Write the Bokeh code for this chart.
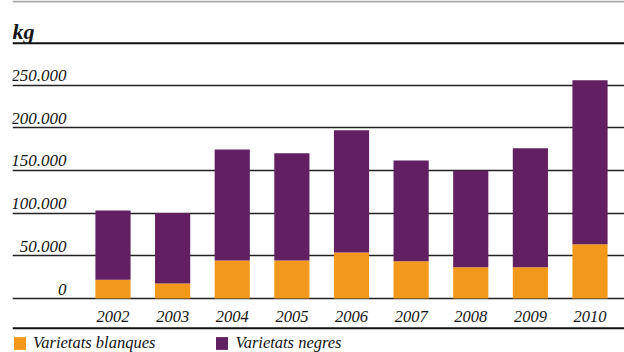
from bokeh.plotting import figure
from bokeh.models import (Range1d, ColumnDataSource, LabelSet, Label, Span,
                          Legend, LegendItem, FixedTicker)
from bokeh.core.properties import value
from bokeh.embed import file_html
from bokeh.resources import INLINE

# ---- data (kg) ----
years = ["2002", "2003", "2004", "2005", "2006", "2007", "2008", "2009", "2010"]
blanques = [22000, 17500, 44500, 44500, 54000, 43500, 36500, 36500, 63500]
negres = [81000, 82500, 130000, 125500, 143000, 118000, 113000, 139500, 192000]
tick_values = [0, 50000, 100000, 150000, 200000, 250000]
tick_labels = ["0", "50.000", "100.000", "150.000", "200.000", "250.000"]
series_names = ["Varietats blanques", "Varietats negres"]
unit_label = "kg"

ORANGE = "#F2991C"
PURPLE = "#621F62"
FONT = "Liberation Serif"
TEXT = "#141414"

# ---- layout helpers (canvas pixel -> data) ----
W, H = 624, 352
FRAME_LEFT = 12
PX_PER_UNIT = 59.625
CENTER0 = 112.5
Y0_PX = 298
PX_PER_KG = 213.5 / 250000


def xd(px):
    return (px - CENTER0) / PX_PER_UNIT


def yd(py):
    return (Y0_PX - py) / PX_PER_KG


p = figure(width=W, height=H, output_backend="svg", toolbar_location=None,
           x_axis_location=None, y_axis_location=None,
           x_range=Range1d(xd(FRAME_LEFT), xd(W)),
           y_range=Range1d(yd(H), yd(0)),
           min_border_left=FRAME_LEFT, min_border_right=0, min_border_top=0,
           min_border_bottom=0)
p.outline_line_color = None
p.xgrid.visible = False
p.ygrid.ticker = FixedTicker(ticks=tick_values)
p.ygrid.grid_line_color = "#222222"
p.ygrid.grid_line_width = 1.7

idx = list(range(len(years)))
src = ColumnDataSource(dict(idx=idx, years=years, blanques=blanques, negres=negres))
rs = p.vbar_stack(["blanques", "negres"], x="idx", width=0.59, source=src,
                  color=[ORANGE, PURPLE], line_width=0)

# decorative rules
p.add_layout(Span(location=yd(1), dimension="width", line_color="#aaaaaa", line_width=2))
p.add_layout(Span(location=yd(42.7), dimension="width", line_color="#111111", line_width=2))
p.add_layout(Span(location=yd(327.7), dimension="width", line_color="#111111", line_width=2))

# unit label
p.add_layout(Label(x=xd(12), y=yd(31), text=unit_label, text_font=FONT,
                   text_font_style="bold italic", text_font_size="22px",
                   text_color=TEXT, text_baseline="alphabetic", text_align="left"))

# y tick labels above the grid lines
tsrc = ColumnDataSource(dict(y=tick_values, t=tick_labels))
p.add_layout(LabelSet(x=xd(66), y="y", text="t", source=tsrc, y_offset=4,
                      text_font=value(FONT), text_font_style="italic",
                      text_font_size="17px", text_color=TEXT,
                      text_align="right", text_baseline="alphabetic"))

# year labels
p.add_layout(LabelSet(x="idx", y=yd(321), text="years", source=src,
                      text_font=value(FONT), text_font_style="italic",
                      text_font_size="16.5px", text_color=TEXT,
                      text_align="center", text_baseline="alphabetic"))

legend = Legend(items=[LegendItem(label=series_names[0], renderers=[rs[0]]),
                       LegendItem(label=series_names[1], renderers=[rs[1]])],
                location=(0, -1), orientation="horizontal", margin=0, padding=0,
                spacing=59, label_standoff=6, glyph_width=15, glyph_height=16,
                label_height=16, border_line_color=None, background_fill_alpha=0,
                label_text_font=FONT, label_text_font_style="italic",
                label_text_font_size="16.5px", label_text_color=TEXT)
p.add_layout(legend)

open("out.html", "w").write(file_html(p, INLINE))
